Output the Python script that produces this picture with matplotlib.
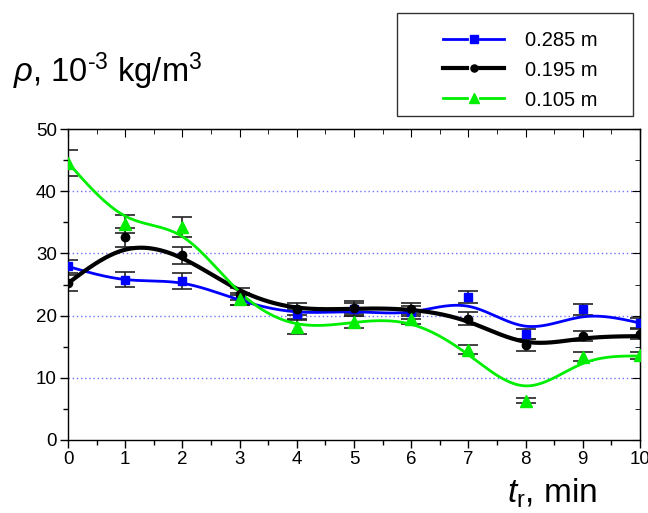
import numpy as np
import matplotlib
matplotlib.use("Agg")
import matplotlib.pyplot as plt
from matplotlib.ticker import MultipleLocator
from matplotlib.patches import Rectangle
from matplotlib.lines import Line2D

plt.rcParams['font.family'] = ['Liberation Sans', 'DejaVu Sans']
plt.rcParams['mathtext.fontset'] = 'custom'
plt.rcParams['mathtext.rm'] = 'Liberation Sans'
plt.rcParams['mathtext.it'] = 'Liberation Sans:italic'
plt.rcParams['mathtext.bf'] = 'Liberation Sans:bold'

t = [0, 1, 2, 3, 4, 5, 6, 7, 8, 9, 10]
labels = ['0.285 m', '0.195 m', '0.105 m']

# measured points
rho_285 = [27.9, 25.8, 25.6, 22.5, 20.2, 21.0, 20.5, 23.0, 17.0, 21.0, 18.8]
rho_195 = [25.2, 32.6, 29.7, 23.5, 21.1, 21.3, 21.0, 19.5, 15.3, 16.7, 17.0]
rho_105 = [44.6, 34.7, 34.2, 22.7, 18.2, 19.0, 19.5, 14.5, 6.3, 13.4, 13.6]

err_285 = [1.1, 1.2, 1.3, 0.8, 0.9, 1.0, 1.0, 1.0, 0.8, 0.9, 0.8]
err_195 = [1.3, 1.5, 1.4, 1.0, 1.0, 1.0, 1.0, 1.0, 1.0, 0.8, 0.8]
err_105 = [2.1, 1.4, 1.6, 1.0, 1.2, 1.0, 0.8, 0.7, 0.4, 0.7, 0.5]

# smoothed fit curves (values read at integer times)
fit_285 = [27.9, 25.8, 25.2, 22.5, 20.6, 20.6, 20.6, 21.5, 18.3, 19.8, 18.8]
fit_195 = [25.2, 30.6, 29.2, 24.1, 21.3, 21.1, 20.9, 19.0, 15.8, 16.3, 16.7]
fit_105 = [44.6, 36.0, 32.7, 23.8, 18.7, 18.9, 18.6, 13.7, 8.7, 12.3, 13.5]


def natural_spline(x, y, xs):
    x = np.asarray(x, float); y = np.asarray(y, float)
    n = len(x)
    h = np.diff(x)
    A = np.zeros((n, n)); b = np.zeros(n)
    A[0, 0] = 1; A[-1, -1] = 1
    for i in range(1, n - 1):
        A[i, i - 1] = h[i - 1]
        A[i, i] = 2 * (h[i - 1] + h[i])
        A[i, i + 1] = h[i]
        b[i] = 3 * ((y[i + 1] - y[i]) / h[i] - (y[i] - y[i - 1]) / h[i - 1])
    c = np.linalg.solve(A, b)
    bb = np.zeros(n - 1); d = np.zeros(n - 1)
    for i in range(n - 1):
        bb[i] = (y[i + 1] - y[i]) / h[i] - h[i] * (2 * c[i] + c[i + 1]) / 3
        d[i] = (c[i + 1] - c[i]) / (3 * h[i])
    idx = np.clip(np.searchsorted(x, xs) - 1, 0, n - 2)
    dx = xs - x[idx]
    return y[idx] + bb[idx] * dx + c[idx] * dx ** 2 + d[idx] * dx ** 3


W, H = 648, 513
fig = plt.figure(figsize=(W / 100, H / 100), dpi=100)
ax = fig.add_axes([68 / W, 1 - 440 / H, 572 / W, 311 / H])


def fx(px):
    return px / W


def fy(py):
    return 1 - py / H


xs = np.linspace(0, 10, 400)
series = [
    (rho_285, err_285, fit_285, '#0000ff', 's', 6, 2.0),
    (rho_195, err_195, fit_195, '#000000', 'o', 6, 3.0),
    (rho_105, err_105, fit_105, '#00ee00', '^', 8, 2.0),
]

for ys in [10, 20, 30, 40]:
    ax.axhline(ys, color='#7070ff', lw=1.0, ls=(0, (1, 2)), zorder=0)

for vals, err, fit, col, mk, ms, lw in series:
    ax.errorbar(t, vals, yerr=err, fmt='none', ecolor='#222222', elinewidth=1.2,
                capsize=7, capthick=1.2, zorder=2)
    ax.plot(xs, natural_spline(t, fit, xs), color=col, lw=lw, zorder=3)
    ax.plot(t, vals, ls='none', marker=mk, ms=ms, color=col, zorder=4)

ax.set_xlim(0, 10)
ax.set_ylim(0, 50)
ax.xaxis.set_major_locator(MultipleLocator(1))
ax.xaxis.set_minor_locator(MultipleLocator(0.5))
ax.yaxis.set_major_locator(MultipleLocator(10))
ax.yaxis.set_minor_locator(MultipleLocator(5))
ax.tick_params(which='both', direction='out', labelsize=13.5, width=1.0, pad=2)
ax.tick_params(which='major', length=6)
ax.tick_params(which='minor', length=3.5)
for sp in ax.spines.values():
    sp.set_linewidth(1.0)

sx = ax.secondary_xaxis('top')
sx.xaxis.set_major_locator(MultipleLocator(1))
sx.xaxis.set_minor_locator(MultipleLocator(0.5))
sx.tick_params(which='both', direction='in', labeltop=False)
sx.tick_params(which='major', length=6)
sx.tick_params(which='minor', length=3.5)
sy = ax.secondary_yaxis('right')
sy.yaxis.set_major_locator(MultipleLocator(10))
sy.yaxis.set_minor_locator(MultipleLocator(5))
sy.tick_params(which='both', direction='in', labelright=False)
sy.tick_params(which='major', length=6)
sy.tick_params(which='minor', length=3.5)

fig.text(fx(13), fy(82), '$\\rho$, 10$^{\\mathrm{\u2010}3}$ kg/m$^{3}$', fontsize=23.5,
         ha='left', va='baseline')
fig.text(fx(597), fy(503), r'$t_{\mathrm{r}}$, min', fontsize=24,
         ha='right', va='baseline')

# legend drawn as a framed box
fig.add_artist(Rectangle((fx(397), fy(116)), fx(633) - fx(397), fy(13) - fy(116),
                         transform=fig.transFigure, fill=False,
                         edgecolor='#333333', lw=1.0))
row_y = [39, 68, 98]
for (vals, err, fit, col, mk, ms, lw), lab, ry in zip(series, labels, row_y):
    fig.add_artist(Line2D([fx(443), fx(467)], [fy(ry), fy(ry)], color=col, lw=lw,
                          transform=fig.transFigure))
    fig.add_artist(Line2D([fx(480), fx(504)], [fy(ry), fy(ry)], color=col, lw=lw,
                          transform=fig.transFigure))
    fig.add_artist(Line2D([fx(473.5)], [fy(ry)], color=col, marker=mk,
                          ms=ms * 0.85, ls='none', transform=fig.transFigure))
    fig.text(fx(525), fy(ry), lab, fontsize=14.5, ha='left', va='center_baseline')

fig.savefig('out.png', dpi=100)
